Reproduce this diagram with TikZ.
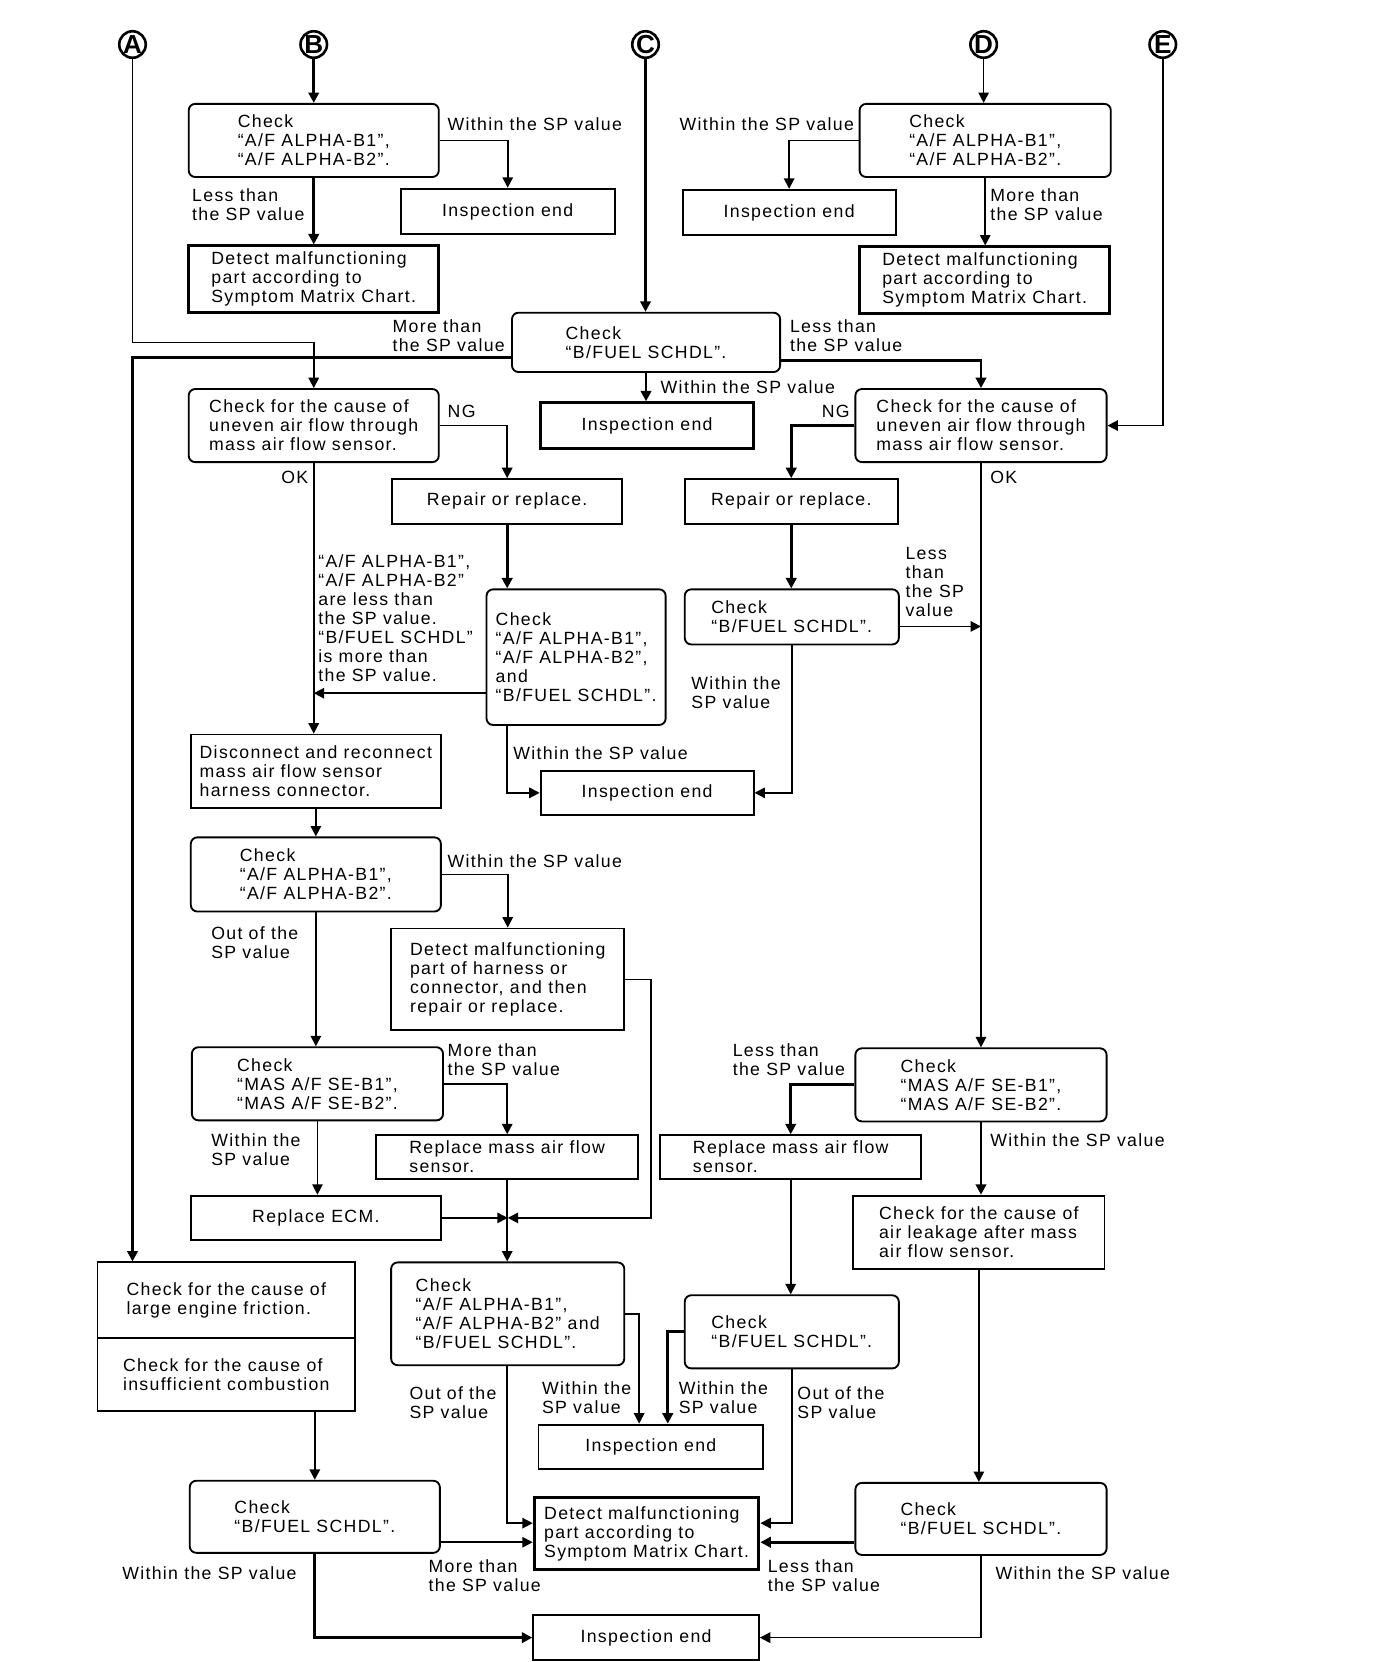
\documentclass[tikz,border=0pt]{standalone}
\usepackage{fontspec}
\setmainfont{Liberation Sans}[LetterSpace=7.5]
\usetikzlibrary{arrows.meta,positioning,calc}

\tikzset{
  every node/.style={font=\fontsize{9.5}{10.2}\selectfont},
  sbox/.style={draw, line width=1pt, align=left, inner sep=0pt},
  rbox/.style={sbox, rounded corners=3.5pt},
  tbox/.style={sbox, line width=1.6pt},
  lbl/.style={align=left, inner sep=0pt, anchor=north west},
  rlbl/.style={align=left, inner sep=0pt, anchor=north east},
  letter/.style={circle, draw, line width=1.4pt, inner sep=0pt, minimum size=0.5cm,
    font=\fontsize{14}{14}\selectfont\bfseries},
  arr/.style={-{Triangle[length=5.6pt,width=5.6pt]}},
  ln/.style={line width=0.9pt},
  tk/.style={line width=1.5pt},
}

\begin{document}
\begin{tikzpicture}[x=0.02cm, y=-0.02cm]
\useasboundingbox (0,0) rectangle (1298,1568);

\foreach \l/\x in {A/125,B/296,C/609,D/928,E/1097}
  \node [letter] (c\l) at (\x,42) {\addfontfeatures{LetterSpace=0}\l};

% first checks
\node [rbox, minimum width=4.72cm, minimum height=1.38cm] (chkB) at (296,132.5) {Check\\“A/F ALPHA-B1”,\\“A/F ALPHA-B2”.};
\node [sbox, minimum width=4.04cm, minimum height=0.86cm] (endB) at (479,199.5) {Inspection end};
\node [tbox, minimum width=4.72cm, minimum height=1.26cm] (detB) at (296,263.5) {Detect malfunctioning\\part according to\\Symptom Matrix Chart.};
\node [rbox, minimum width=4.74cm, minimum height=1.38cm] (chkD) at (929.5,132.5) {Check\\“A/F ALPHA-B1”,\\“A/F ALPHA-B2”.};
\node [sbox, minimum width=4.02cm, minimum height=0.86cm] (endD) at (744.5,200.5) {Inspection end};
\node [tbox, minimum width=4.72cm, minimum height=1.26cm] (detD) at (929,264.5) {Detect malfunctioning\\part according to\\Symptom Matrix Chart.};
\node [rbox, minimum width=5.06cm, minimum height=1.12cm] (chkC) at (609.5,323) {Check\\“B/FUEL SCHDL”.};
\node [tbox, minimum width=4.02cm, minimum height=0.86cm] (endC) at (610.5,401.5) {Inspection end};

% uneven air flow
\node [rbox, minimum width=4.72cm, minimum height=1.38cm] (unevL) at (296,401.5) {Check for the cause of\\uneven air flow through\\mass air flow sensor.};
\node [rbox, minimum width=4.74cm, minimum height=1.38cm] (unevR) at (925.5,401.5) {Check for the cause of\\uneven air flow through\\mass air flow sensor.};
\node [sbox, minimum width=4.34cm, minimum height=0.84cm] (repL) at (478.5,473) {Repair or replace.};
\node [sbox, minimum width=4.02cm, minimum height=0.84cm] (repR) at (746.5,473) {Repair or replace.};
\node [rbox, minimum width=3.38cm, minimum height=2.56cm] (chk3) at (543.5,620) {Check\\“A/F ALPHA-B1”,\\“A/F ALPHA-B2”,\\and\\“B/FUEL SCHDL”.};
\node [rbox, minimum width=4.04cm, minimum height=1.04cm] (chkR2) at (747,582) {Check\\“B/FUEL SCHDL”.};
\node [sbox, minimum width=4.02cm, minimum height=0.84cm] (endM) at (610.5,748) {Inspection end};

% harness connector
\node [sbox, minimum width=4.72cm, minimum height=1.38cm] (disc) at (298,727.5) {Disconnect and reconnect\\mass air flow sensor\\harness connector.};
\node [rbox, minimum width=4.72cm, minimum height=1.40cm] (chk4) at (298,825) {Check\\“A/F ALPHA-B1”,\\“A/F ALPHA-B2”.};
\node [sbox, minimum width=4.40cm, minimum height=1.92cm] (detH) at (479,924) {Detect malfunctioning\\part of harness or\\connector, and then\\repair or replace.};

% mass air flow sensor
\node [rbox, minimum width=4.74cm, minimum height=1.38cm] (masL) at (299.5,1022.5) {Check\\“MAS A/F SE-B1”,\\“MAS A/F SE-B2”.};
\node [sbox, minimum width=4.94cm, minimum height=0.82cm] (repML) at (478.5,1091.5) {Replace mass air flow\\sensor.};
\node [sbox, minimum width=4.72cm, minimum height=0.84cm] (ecm) at (298,1149) {Replace ECM.};
\node [rbox, minimum width=4.74cm, minimum height=1.38cm] (masR) at (925.5,1023.5) {Check\\“MAS A/F SE-B1”,\\“MAS A/F SE-B2”.};
\node [sbox, minimum width=4.92cm, minimum height=0.82cm] (repMR) at (746,1091.5) {Replace mass air flow\\sensor.};
\node [sbox, minimum width=4.74cm, minimum height=1.38cm] (leak) at (923.5,1162.5) {Check for the cause of\\air leakage after mass\\air flow sensor.};

% bottom part
\node [sbox, minimum width=4.86cm, minimum height=1.42cm] (fricA) at (213.5,1226.5) {Check for the cause of\\large engine friction.};
\node [sbox, minimum width=4.86cm, minimum height=1.38cm] (fricB) at (213.5,1296.5) {Check for the cause of\\insufficient combustion};
\node [rbox, minimum width=4.40cm, minimum height=1.94cm] (chk5) at (479,1239.5) {Check\\“A/F ALPHA-B1”,\\“A/F ALPHA-B2” and\\“B/FUEL SCHDL”.};
\node [rbox, minimum width=4.04cm, minimum height=1.38cm] (chk6) at (747,1256.5) {Check\\“B/FUEL SCHDL”.};
\node [sbox, minimum width=4.24cm, minimum height=0.84cm] (endL) at (614,1365) {Inspection end};
\node [tbox, minimum width=4.24cm, minimum height=1.36cm] (detL) at (610,1447) {Detect malfunctioning\\part according to\\Symptom Matrix Chart.};
\node [rbox, minimum width=4.72cm, minimum height=1.36cm] (chk7) at (297,1431) {Check\\“B/FUEL SCHDL”.};
\node [rbox, minimum width=4.74cm, minimum height=1.36cm] (chk8) at (925.5,1433) {Check\\“B/FUEL SCHDL”.};
\node [sbox, minimum width=4.26cm, minimum height=0.84cm] (endBot) at (609.5,1545) {Inspection end};

% labels
\node [lbl] (l1) at (422,111) {Within the SP value};
\node [lbl] (l2) at (181,178) {Less than\\the SP value};
\node [rlbl] (l3) at (806,111) {Within the SP value};
\node [lbl] (l4) at (934,178) {More than\\the SP value};
\node [lbl] (l5) at (370,301) {More than\\the SP value};
\node [lbl] (l6) at (745,301) {Less than\\the SP value};
\node [lbl] (l7) at (623,359) {Within the SP value};
\node [lbl] (l8) at (422,382) {NG};
\node [lbl] (l9) at (775,382) {NG};
\node [lbl] (l10) at (265,444) {OK};
\node [lbl] (l11) at (934,444) {OK};
\node [lbl] (l12) at (300,523) {“A/F ALPHA-B1”,\\“A/F ALPHA-B2”\\are less than\\the SP value.\\“B/FUEL SCHDL”\\is more than\\the SP value.};
\node [lbl] (l13) at (484,704) {Within the SP value};
\node [lbl] (l14) at (854,516) {Less\\than\\the SP\\value};
\node [lbl] (l15) at (652,638) {Within the\\SP value};
\node [lbl] (l16) at (422,806) {Within the SP value};
\node [lbl] (l17) at (199,874) {Out of the\\SP value};
\node [lbl] (l18) at (422,984) {More than\\the SP value};
\node [lbl] (l19) at (199,1069) {Within the\\SP value};
\node [lbl] (l20) at (691,984) {Less than\\the SP value};
\node [lbl] (l21) at (934,1069) {Within the SP value};
\node [lbl] (l22) at (511,1303) {Within the\\SP value};
\node [lbl] (l23) at (640,1303) {Within the\\SP value};
\node [lbl] (l24) at (386,1308) {Out of the\\SP value};
\node [lbl] (l25) at (752,1308) {Out of the\\SP value};
\node [lbl] (l26) at (404,1471) {More than\\the SP value};
\node [lbl] (l27) at (724,1471) {Less than\\the SP value};
\node [lbl] (l28) at (115,1478) {Within the SP value};
\node [lbl] (l29) at (939,1478) {Within the SP value};

% helper points
\coordinate (aTurn) at (296,323);
\coordinate (cCw) at ([yshift=-0.28cm]chkC.west);
\coordinate (cCe) at ([yshift=-0.34cm]chkC.east);
\coordinate (c3w) at ([yshift=-0.68cm]chk3.west);
\coordinate (cR2e) at ([yshift=-0.18cm]chkR2.east);
\coordinate (jn) at (479,1149);
\coordinate (c7) at ([yshift=-0.48cm]chk7.east);
\coordinate (c8) at ([yshift=-0.44cm]chk8.west);

% connectors
\draw [arr,tk] (cB.south) -- (chkB.north);
\draw [arr,ln] (cD.south) -- (cD.south |- chkD.north);
\draw [arr,tk] (cC.south) -- (cC.south |- chkC.north);
\draw [arr,ln] (chkB.east) -| (endB.north);
\draw [arr,tk] (chkB.south) -- (detB.north);
\draw [arr,ln] (chkD.west) -| (endD.north);
\draw [arr,ln] (chkD.south) -- (chkD.south |- detD.north);
\draw [arr,ln] (cA.south) |- (aTurn) -- (unevL.north);
\draw [arr,tk] (cCw) -| (cA |- fricA.north);
\draw [arr,tk] (cCe) -| (unevR.north);
\draw [arr,tk] (chkC.south) -- (chkC.south |- endC.north);
\draw [arr,ln] (cE.south) |- (unevR.east);
\draw [arr,ln] (unevL.east) -| (repL.north);
\draw [arr,tk] (unevR.west) -| (repR.north);
\draw [arr,ln] (unevL.south) -- (unevL.south |- disc.north);
\draw [arr,tk] (repL.south) -- (repL.south |- chk3.north);
\draw [arr,ln] (c3w) -- (unevL.south |- c3w);
\draw [arr,ln] (repL.south |- chk3.south) |- (endM.west);
\draw [arr,ln] (unevR.south) -- (unevR.south |- masR.north);
\draw [arr,tk] (repR.south) -- (repR.south |- chkR2.north);
\draw [arr,ln] (cR2e) -- (unevR.south |- cR2e);
\draw [arr,ln] (chkR2.south) |- (endM.east);
\draw [arr,ln] (disc.south) -- (chk4.north);
\draw [arr,ln] (chk4.east) -| (detH.north);
\draw [arr,ln] (chk4.south) -- (chk4.south |- masL.north);
\draw [arr,ln] (masL.east) -| (repML.north);
\draw [arr,ln] (masL.south) -- (masL.south |- ecm.north);
\draw [arr,ln] (ecm.east) -- (jn);
\draw [arr,ln] (detH.east) -- ++(24,0) |- (jn);
\draw [arr,ln] (repML.south) -- (repML.south |- chk5.north);
\draw [arr,tk] (masR.west) -| (repMR.north);
\draw [arr,tk] (masR.south) -- (masR.south |- leak.north);
\draw [arr,ln] (repMR.south) -- (repMR.south |- chk6.north);
\draw [arr,ln] (leak.south) -- (leak.south |- chk8.north);
\draw [arr,ln] (chk7.north |- fricB.south) -- (chk7.north);
\draw [arr,ln] (chk5.east) -| ([xshift=-0.22cm]endL.north);
\draw [arr,tk] (chk6.west) -| ([xshift=0.32cm]endL.north);
\draw [arr,ln] (repML.south |- chk5.south) |- ([yshift=0.2cm]detL.west);
\draw [arr,ln] (chk6.south) |- ([yshift=0.2cm]detL.east);
\draw [arr,ln] (c7) -- (detL.west |- c7);
\draw [arr,tk] (c8) -- (detL.east |- c8);
\draw [arr,tk] (chk7.south) |- (endBot.west);
\draw [arr,ln] (chk8.south) |- (endBot.east);
\end{tikzpicture}
\end{document}
